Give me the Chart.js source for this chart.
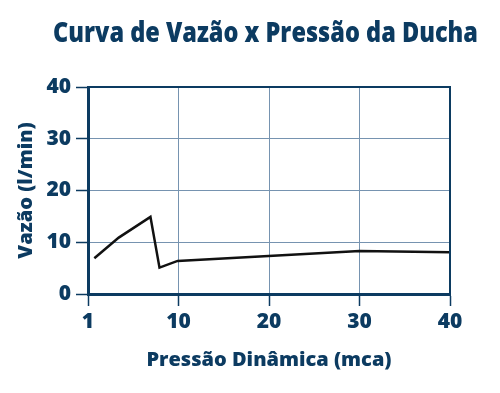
<!DOCTYPE html>
<html>
<head>
<meta charset="utf-8">
<script src="https://cdn.jsdelivr.net/npm/chart.js@4/dist/chart.umd.min.js"></script>
<style>
  html, body { margin: 0; padding: 0; background: #fff; }
  #wrap { width: 500px; height: 393px; }
</style>
</head>
<body>
<div id="wrap"><canvas id="chart" width="500" height="393"></canvas></div>
<script>
const titulo = 'Curva de Vazão x Pressão da Ducha';
const pressao = [0.7, 3.4, 6.9, 7.9, 9.9, 30, 40];
const vazao = [6.9, 10.9, 14.9, 5.1, 6.4, 8.3, 8.05];
const xTickValues = [0, 10, 20, 30, 40];
const xTickLabels = ['1', '10', '20', '30', '40'];

const navy = '#0c3b61';
const gridBlue = '#7693b0';

const frame = {
  id: 'frame',
  afterDraw(chart) {
    const {ctx, chartArea} = chart;
    ctx.save();
    ctx.strokeStyle = navy;
    ctx.lineWidth = 2;
    ctx.beginPath();
    ctx.moveTo(chartArea.left, chartArea.top);
    ctx.lineTo(chartArea.right, chartArea.top);
    ctx.lineTo(chartArea.right, chartArea.bottom);
    ctx.stroke();
    // title, squeezed a little to look like the condensed original
    ctx.font = '800 28px "Open Sans"';
    ctx.fillStyle = navy;
    ctx.textBaseline = 'alphabetic';
    const w = ctx.measureText(titulo).width;
    const sx = 425 / w;
    ctx.translate(53, 42);
    ctx.scale(sx, 1);
    ctx.fillText(titulo, 0, 0);
    ctx.restore();
  }
};

const tickFont = { family: 'Open Sans', weight: 800, size: 21 };
const titleFont = { family: 'Open Sans', weight: 800, size: 20 };

const ctx = document.getElementById('chart').getContext('2d');
new Chart(ctx, {
  type: 'line',
  data: {
    datasets: [{
      data: pressao.map((p, i) => ({x: p, y: vazao[i]})),
      borderColor: '#111',
      borderWidth: 2.5,
      pointRadius: 0,
      tension: 0,
      fill: false
    }]
  },
  options: {
    responsive: false,
    animation: false,
    layout: { padding: { top: 87, right: 50, left: 0, bottom: 0 } },
    plugins: { legend: { display: false }, tooltip: { enabled: false } },
    scales: {
      x: {
        type: 'linear',
        min: 0,
        max: 40,
        afterFit(scale) { scale.height = 99; },
        afterBuildTicks(scale) { scale.ticks = xTickValues.map(v => ({value: v})); },
        grid: { color: gridBlue, lineWidth: 1, tickColor: navy, tickLength: 12, tickWidth: 1.5 },
        border: { color: navy, width: 3 },
        ticks: {
          padding: 3,
          color: navy,
          font: tickFont,
          callback: (v) => xTickLabels[xTickValues.indexOf(v)]
        },
        title: {
          display: true,
          text: 'Pressão Dinâmica (mca)',
          color: navy,
          font: titleFont,
          padding: { top: 0, bottom: 21 }
        }
      },
      y: {
        min: 0,
        max: 40,
        afterFit(scale) { scale.width = 88; },
        grid: { color: gridBlue, lineWidth: 1, tickColor: navy, tickLength: 12, tickWidth: 1.5 },
        border: { color: navy, width: 3 },
        ticks: {
          stepSize: 10,
          padding: 5,
          color: navy,
          font: tickFont
        },
        title: {
          display: true,
          text: 'Vazão (l/min)',
          color: navy,
          font: titleFont,
          padding: { top: 14, bottom: 0 }
        }
      }
    }
  },
  plugins: [frame]
});
</script>
</body>
</html>
